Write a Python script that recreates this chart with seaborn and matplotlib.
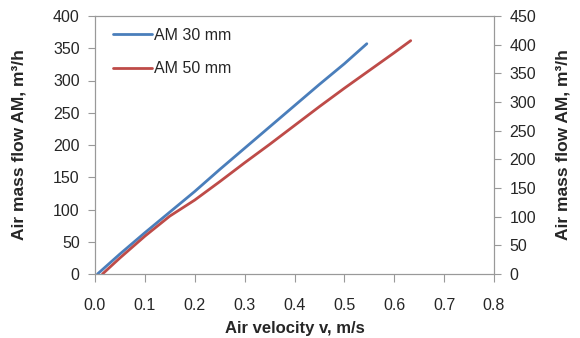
import pandas as pd
import numpy as np
import matplotlib
matplotlib.use('Agg')
import matplotlib.pyplot as plt
import seaborn as sns

# values
v_30 = [0.005, 0.05, 0.1, 0.15, 0.2, 0.25, 0.3, 0.35, 0.4, 0.45, 0.5, 0.545]
am_30 = [0, 31, 64, 96, 128, 162, 195, 228, 261, 294, 326, 357]

# AM 50 mm is drawn against the right-hand axis
v_50 = [0.015, 0.05, 0.1, 0.15, 0.2, 0.25, 0.3, 0.35, 0.4, 0.45, 0.5, 0.55, 0.6, 0.633]
am_50 = [0, 28, 66, 101, 129, 161, 194, 226, 259, 292, 324, 355, 386, 407]

x_ticks = [0.0, 0.1, 0.2, 0.3, 0.4, 0.5, 0.6, 0.7, 0.8]
left_ticks = list(range(0, 401, 50))
right_ticks = list(range(0, 451, 50))

df30 = pd.DataFrame({'v': v_30, 'am': am_30})
df50 = pd.DataFrame({'v': v_50, 'am': am_50})

sns.set_theme(style='ticks')
plt.rcParams['font.family'] = ['Liberation Sans', 'DejaVu Sans']

fig, ax = plt.subplots(figsize=(5.8, 3.38), dpi=100)
fig.subplots_adjust(left=95 / 580, right=494 / 580, top=1 - 16 / 338, bottom=1 - 274 / 338)
ax2 = ax.twinx()

sns.lineplot(data=df30, x='v', y='am', ax=ax, color='#4a7ebb', linewidth=2, label='AM 30 mm', legend=False)
sns.lineplot(data=df50, x='v', y='am', ax=ax2, color='#be4b48', linewidth=2, label='AM 50 mm', legend=False)

ax.set_xlim(0, 0.8)
ax.set_ylim(0, 400)
ax2.set_ylim(0, 450)
ax.set_xticks(x_ticks)
ax.set_xticklabels([f'{t:.1f}' for t in x_ticks])
ax.set_yticks(left_ticks)
ax2.set_yticks(right_ticks)

for a in (ax, ax2):
    a.tick_params(axis='y', labelsize=11.5, length=5, width=0.8, color='#999999', pad=6)
    for s in a.spines.values():
        s.set_color('#999999')
        s.set_linewidth(0.8)
ax.tick_params(axis='x', labelsize=11.5, length=6, width=0.8, color='#999999', pad=11)

ax.set_xlabel('Air velocity v, m/s', fontsize=12, fontweight='bold', labelpad=6)
ax.set_ylabel('Air mass flow AM, m³/h', fontsize=12.5, fontweight='bold', labelpad=19)
ax2.set_ylabel('Air mass flow AM, m³/h', fontsize=12.5, fontweight='bold', labelpad=14, rotation=90)

h1, l1 = ax.get_legend_handles_labels()
h2, l2 = ax2.get_legend_handles_labels()
ax.legend(h1 + h2, l1 + l2, loc='upper left', frameon=False, fontsize=11.5,
          handlelength=2.4, handletextpad=0.15, labelspacing=1.15,
          bbox_to_anchor=(0.01, 1.01))

fig.savefig('out.png', dpi=100)
